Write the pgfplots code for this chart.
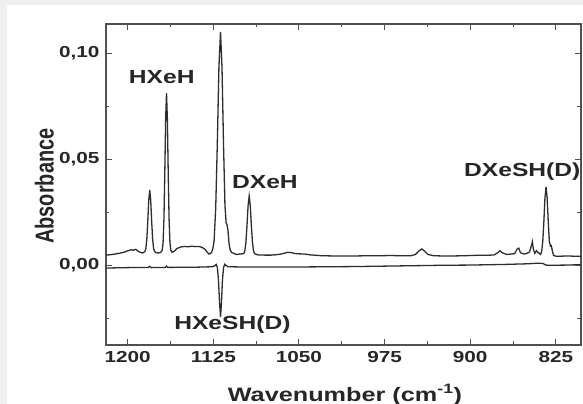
\documentclass[border=0pt]{standalone}
\usepackage{graphicx}
\usepackage{pgfplots}
\pgfplotsset{compat=1.18}
\usepackage{fontspec}
\setmainfont{Liberation Sans}[FakeStretch=1.3]
\newfontfamily\rotfont{Liberation Sans}
\definecolor{bggray}{RGB}{240,240,240}
\definecolor{axgray}{RGB}{80,80,80}
\definecolor{specgray}{RGB}{45,45,45}
\begin{document}
\begin{tikzpicture}
\useasboundingbox (0,0) rectangle (583bp,404bp);
\fill[bggray] (0,0) rectangle (583bp,404bp);
\fill[white] (7bp,0) rectangle (583bp,399bp);
\begin{axis}[
  at={(106bp,59bp)}, anchor=south west,
  scale only axis, width=475bp, height=321bp,
  x dir=reverse,
  xmin=803, xmax=1219,
  ymin=-0.0377, ymax=0.1137,
  xtick={825,900,975,1050,1125,1200},
  minor xtick={862.5,937.5,1012.5,1087.5,1162.5},
  ytick={0,0.05,0.1},
  minor ytick={-0.025,0.025,0.075},
  tick align=inside,
  major tick length=6bp, minor tick length=3.5bp,
  axis line style={draw=axgray, line width=1.2bp},
  tick style={axgray, line width=1bp},
  /pgf/number format/assume math mode=true,
  ticklabel style={font=\bfseries\fontsize{16}{17}\selectfont, text=black!85},
  xticklabel style={/pgf/number format/1000 sep={}, yshift=-3bp},
  yticklabel style={/pgf/number format/.cd, fixed, fixed zerofill, precision=2, use comma, /tikz/xshift=-3bp},
  xlabel={\bfseries\fontsize{19.5}{21}\selectfont Wavenumber (cm\textsuperscript{-1})},
  ylabel={\rotfont\bfseries\fontsize{20}{21}\selectfont\scalebox{1}[1.3]{Absorbance}},
  xlabel style={at={(axis description cs:0.503,-0.1545)}, anchor=center, text=black!85},
  ylabel style={at={(axis description cs:-0.13,0.495)}, anchor=center, text=black!85},
]
\addplot[specgray, line width=1.3bp] coordinates {
(1219,0.0047) (1215,0.0049) (1211,0.0052) (1207,0.0056) (1203,0.0061) (1199.5,0.0068) (1197,0.0072) (1195,0.0070) (1193,0.0074) (1191,0.0066) (1189,0.0060) (1187,0.0057) (1186,0.0060)
(1184.95,0.0064) (1184.1,0.0078) (1183.25,0.0122) (1182.4,0.0207) (1181.55,0.0307) (1180.7,0.0354) (1179.85,0.0307) (1179.0,0.0207) (1178.15,0.0122) (1177.3,0.0078) (1176.45,0.0064)
(1175,0.0058) (1173,0.0057) (1171,0.0060)
(1169.75,0.0070) (1169.0,0.0107) (1168.25,0.0218) (1167.5,0.0435) (1166.75,0.0691) (1166,0.0811) (1165.25,0.0691) (1164.5,0.0435) (1163.75,0.0218) (1163.0,0.0107) (1162.25,0.0070)
(1161,0.0060) (1159,0.0066) (1157,0.0078) (1155,0.0082) (1153,0.0086) (1150,0.0088) (1147,0.0086) (1144,0.0089) (1141,0.0087) (1138,0.0088) (1135,0.0084) (1132.5,0.0075) (1130.5,0.0062) (1129,0.0052) (1127.5,0.0055)
(1126.5,0.0060) (1125.3,0.0080) (1124.3,0.0116) (1122.9,0.027) (1121.5,0.0575) (1120.1,0.0933) (1118.7,0.1100) (1117.4,0.0933) (1116.1,0.0575) (1114.8,0.028) (1113.8,0.020) (1113.0,0.019) (1112.2,0.0165) (1111.2,0.0100) (1110.2,0.0070) (1109,0.0060) (1107,0.0055) (1105,0.0050)
(1098.35,0.0054) (1097.4,0.0067) (1096.45,0.0108) (1095.5,0.0188) (1094.55,0.0281) (1093.6,0.0325) (1092.65,0.0281) (1091.7,0.0188) (1090.75,0.0108) (1089.8,0.0067) (1088.85,0.0054)
(1086,0.0048) (1080,0.0047) (1074,0.0047) (1068,0.0050) (1064,0.0054) (1060,0.0060) (1057,0.0059) (1054,0.0055) (1050,0.0053) (1045,0.0052) (1040,0.0048) (1030,0.0044) (1020,0.0043) (1010,0.0043) (1000,0.0043) (990,0.0044) (980,0.0044) (970,0.0045) (960,0.0044) (952,0.0044)
(948,0.0050) (945,0.0066) (942.5,0.0076) (940,0.0066) (937,0.0050) (932,0.0044) (925,0.0043) (915,0.0043) (905,0.0044) (895,0.0046) (885,0.0046) (879,0.0048) (876,0.0058) (874,0.0068) (872,0.0058) (868,0.0050) (864,0.0052) (861,0.0054) (859,0.0075) (857.5,0.0080) (856,0.0058) (853,0.0052) (850,0.0056) (848,0.0062) (846.5,0.0090) (845.6,0.0110) (844.7,0.0075) (843.5,0.0055) (842,0.0068) (841,0.0060) (839.5,0.0056)
(838.35,0.0050) (837.4,0.0065) (836.45,0.0113) (835.5,0.0207) (834.55,0.0318) (833.6,0.0369) (832.65,0.0318) (831.7,0.0207) (830.75,0.0113) (829.8,0.0090) (829.0,0.0092) (828.0,0.0065) (827.0,0.0045)
(825,0.0042) (820,0.0042) (815,0.0043) (810,0.0042) (803,0.0042)
};
\addplot[specgray, line width=1.3bp] coordinates {
(1219,-0.0014) (1200,-0.0012) (1182,-0.0011) (1180.7,-0.0006) (1179.5,-0.0012) (1167,-0.0011) (1166,-0.0005) (1165,-0.0011) (1140,-0.0010) (1126,-0.0008) (1123.5,-0.0003) (1122.5,0.0003) (1121.5,-0.0010) (1120.5,-0.0070) (1119.5,-0.0180) (1118.7,-0.0245) (1117.9,-0.0180) (1117,-0.0070) (1116,-0.0010) (1115,0.0004) (1114,-0.0002) (1112,-0.0008) (1100,-0.0009) (1050,-0.0009) (1000,-0.0007) (975,-0.0005) (950,-0.0003) (925,-0.0001) (900,0.0) (870,0.0003) (850,0.0006) (840,0.0009) (836,0.0007) (834,0.0000) (830,-0.0001) (815,0.0000) (803,0.0002)
};
\node[font=\bfseries\fontsize{19}{20}\selectfont, text=black!85] at (axis cs:1170.2,0.0887) {HXeH};
\node[font=\bfseries\fontsize{19}{20}\selectfont, text=black!85] at (axis cs:1079.8,0.0392) {DXeH};
\node[font=\bfseries\fontsize{19}{20}\selectfont, text=black!85] at (axis cs:854.4,0.0439) {DXeSH(D)};
\node[font=\bfseries\fontsize{19}{20}\selectfont, text=black!85] at (axis cs:1108.3,-0.0283) {HXeSH(D)};
\end{axis}
\end{tikzpicture}
\end{document}
